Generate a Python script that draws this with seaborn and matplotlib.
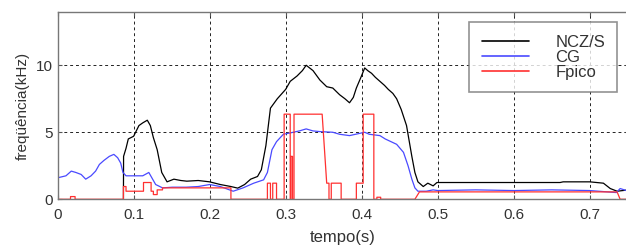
import pandas as pd
import matplotlib
matplotlib.use("Agg")
import matplotlib.pyplot as plt
import seaborn as sns

# NCZ/S curve
nczs_t = [0.0866, 0.0868, 0.090, 0.093, 0.100, 0.107, 0.112, 0.118, 0.122, 0.126,
          0.131, 0.137, 0.144, 0.153, 0.162, 0.170, 0.185, 0.200, 0.214, 0.228,
          0.237, 0.246, 0.254, 0.263, 0.268, 0.274, 0.280, 0.289, 0.300, 0.306,
          0.315, 0.322, 0.327, 0.336, 0.345, 0.354, 0.362, 0.371, 0.378, 0.384,
          0.389, 0.393, 0.399, 0.404, 0.408, 0.413, 0.418, 0.424, 0.430, 0.435,
          0.441, 0.446, 0.452, 0.459, 0.466, 0.470, 0.474, 0.481, 0.487, 0.494,
          0.499, 0.53, 0.56, 0.60, 0.63, 0.661, 0.665, 0.68, 0.70, 0.718,
          0.727, 0.736, 0.751]
nczs_v = [0.0, 3.2, 3.8, 4.5, 4.7, 5.5, 5.7, 5.9, 5.5, 4.6,
          3.7, 2.0, 1.3, 1.5, 1.4, 1.35, 1.4, 1.3, 1.1, 0.95,
          0.83, 1.1, 1.5, 1.7, 2.2, 4.0, 6.8, 7.5, 8.2, 8.8,
          9.2, 9.6, 10.0, 9.6, 8.9, 8.4, 8.3, 7.8, 7.5, 7.2,
          7.6, 8.3, 9.1, 9.8, 9.6, 9.4, 9.1, 8.8, 8.5, 8.2,
          7.9, 7.5, 6.7, 5.5, 3.2, 2.0, 1.3, 0.95, 1.2, 1.0,
          1.25, 1.25, 1.25, 1.25, 1.25, 1.25, 1.3, 1.3, 1.3, 1.2,
          0.8, 0.6, 0.7]

# CG curve
cg_t = [0.000, 0.011, 0.018, 0.024, 0.031, 0.037, 0.044, 0.050, 0.055, 0.061,
        0.068, 0.074, 0.079, 0.083, 0.086, 0.090, 0.099, 0.112, 0.120, 0.125,
        0.129, 0.138, 0.151, 0.169, 0.185, 0.200, 0.214, 0.231, 0.244, 0.258,
        0.271, 0.276, 0.282, 0.288, 0.297, 0.310, 0.318, 0.327, 0.336, 0.345,
        0.362, 0.371, 0.384, 0.404, 0.410, 0.424, 0.431, 0.446, 0.455, 0.461,
        0.466, 0.470, 0.474, 0.485, 0.494, 0.500, 0.55, 0.60, 0.65, 0.70,
        0.735, 0.740, 0.751]
cg_v = [1.6, 1.75, 2.1, 2.0, 1.85, 1.5, 1.75, 2.1, 2.6, 2.9,
        3.2, 3.35, 3.1, 2.7, 2.0, 1.75, 1.75, 1.75, 2.0, 1.5,
        1.1, 0.85, 0.9, 0.9, 0.95, 1.1, 0.95, 0.6, 0.85, 1.2,
        1.45, 2.0, 3.7, 4.3, 4.85, 5.0, 5.1, 5.25, 5.1, 5.05,
        5.0, 4.85, 4.75, 5.0, 4.85, 4.75, 4.5, 4.1, 3.5, 2.5,
        1.5, 0.85, 0.6, 0.6, 0.7, 0.65, 0.7, 0.65, 0.7, 0.65,
        0.5, 0.8, 0.6]

# Fpico (stepped)
fpico_t = [0.000, 0.017, 0.017, 0.023, 0.023, 0.0866, 0.0866, 0.090, 0.090, 0.113,
           0.113, 0.123, 0.123, 0.126, 0.126, 0.131, 0.131, 0.138, 0.138, 0.228,
           0.228, 0.276, 0.276, 0.280, 0.280, 0.283, 0.283, 0.288, 0.288, 0.298,
           0.298, 0.306, 0.306, 0.307, 0.307, 0.309, 0.309, 0.311, 0.311, 0.348,
           0.354, 0.357, 0.357, 0.360, 0.360, 0.373, 0.373, 0.393, 0.393, 0.402,
           0.402, 0.416, 0.416, 0.420, 0.420, 0.425, 0.425, 0.470, 0.476, 0.736,
           0.740, 0.751]
fpico_v = [0, 0, 0.2, 0.2, 0, 0, 0.95, 0.95, 0.6, 0.6,
           1.25, 1.25, 0.6, 0.6, 0.35, 0.35, 0.7, 0.7, 0.85, 0.85,
           0, 0, 1.2, 1.2, 0, 0, 1.2, 1.2, 0, 0,
           6.35, 6.35, 0, 0, 3.2, 3.2, 0, 0, 6.35, 6.35,
           1.2, 1.2, 0, 0, 1.2, 1.2, 0, 0, 1.2, 1.2,
           6.35, 6.35, 0, 0, 0.15, 0.15, 0, 0, 0.55, 0.55,
           0, 0]

series_names = ["NCZ/S", "CG", "Fpico"]
colors = ["#000000", "#4a4aff", "#ff3030"]

df = pd.concat([
    pd.DataFrame({"t": nczs_t, "f": nczs_v, "s": "NCZ/S"}),
    pd.DataFrame({"t": cg_t, "f": cg_v, "s": "CG"}),
    pd.DataFrame({"t": fpico_t, "f": fpico_v, "s": "Fpico"}),
], ignore_index=True)

sns.set_style("white")
plt.rcParams["font.family"] = ["Liberation Sans", "DejaVu Sans"]

fig = plt.figure(figsize=(6.26, 2.46), dpi=100)
# right edge slightly outside the figure, so the right spine is clipped
ax = fig.add_axes([0.092, 0.19, 0.912, 0.7626])

sns.lineplot(data=df, x="t", y="f", hue="s", hue_order=series_names,
             palette=colors, estimator=None, sort=False, linewidth=0.9,
             ax=ax, legend=False)

ax.set_xlim(0, 0.751)
ax.set_ylim(0, 14)
ax.set_xticks([0, 0.1, 0.2, 0.3, 0.4, 0.5, 0.6, 0.7])
ax.set_xticklabels(["0", "0.1", "0.2", "0.3", "0.4", "0.5", "0.6", "0.7"])
ax.set_yticks([0, 5, 10])
ax.grid(True, color="#222222", linestyle=(0, (3, 3)), linewidth=0.7)
ax.tick_params(direction="in", length=3, colors="#555555", labelcolor="#333333",
               labelsize=11, top=True, right=True, bottom=True, left=True)
ax.tick_params(axis="x", pad=6)
for sp in ax.spines.values():
    sp.set_color("#777777")
    sp.set_linewidth(1.0)

ax.set_xlabel("tempo(s)", fontsize=12, color="#333333", labelpad=6)
ax.set_ylabel("freqüência(kHz)", fontsize=11, color="#333333", labelpad=4)

handles = [plt.Line2D([], [], color=c, linewidth=1.2) for c in colors]
leg = ax.legend(handles, series_names, loc="upper right",
                bbox_to_anchor=(0.9807, 0.9435), fontsize=12, frameon=True,
                fancybox=False, handlelength=2.8, handletextpad=1.6,
                labelspacing=0.0, borderpad=0.75, borderaxespad=0)
leg.get_frame().set_edgecolor("#777777")
leg.get_frame().set_linewidth(1.2)
for txt in leg.get_texts():
    txt.set_color("#333333")

fig.savefig("out.png", dpi=100)
